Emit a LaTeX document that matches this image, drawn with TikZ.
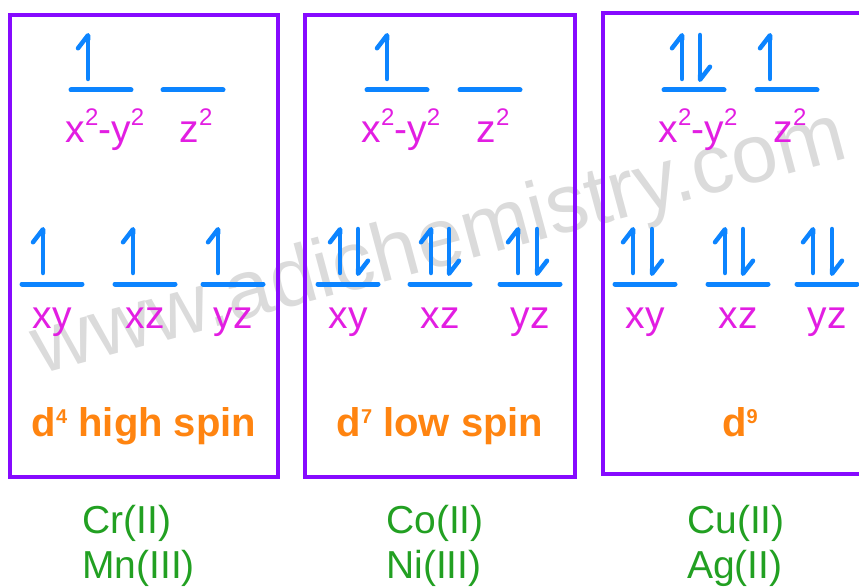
\documentclass[tikz,border=0pt]{standalone}
\usepackage{fontspec}
\setmainfont{Liberation Sans}
\usetikzlibrary{arrows.meta}

\definecolor{boxpurple}{RGB}{134,10,255}
\definecolor{eblue}{RGB}{12,132,255}
\definecolor{omag}{RGB}{226,30,226}
\definecolor{cfgorange}{RGB}{255,132,16}
\definecolor{iongreen}{RGB}{34,160,34}

\newcommand{\osup}[1]{\raisebox{17pt}{\fontsize{24}{24}\selectfont #1}}
\newcommand{\csup}[1]{\raisebox{13pt}{\fontsize{20}{20}\selectfont\bfseries #1}}

\begin{document}
\begin{tikzpicture}[x=1pt, y=-1pt,
    panel/.style={draw=boxpurple, line width=4pt},
    lvl/.style={draw=eblue, line width=5pt, line cap=round},
    spin/.style={draw=eblue, line width=4.5pt, line cap=round,
                 -{Straight Barb[left, round, length=13pt, width=20pt]}},
    orb/.style={text=omag, font=\fontsize{39}{40}\selectfont, inner sep=0pt, anchor=base},
    cfg/.style={text=cfgorange, font=\bfseries\fontsize{40}{42}\selectfont, inner sep=0pt, anchor=base},
    ion/.style={text=iongreen, font=\fontsize{39}{45}\selectfont, align=left, inner sep=0pt, anchor=base west},
    wmark/.style={text=black!14, font=\fontsize{83}{83}\selectfont, rotate=15}
]
\useasboundingbox (0,0) rectangle (859,588);
\clip (0,0) rectangle (859,588);

% watermark
\node[wmark] (site) at (440,245) {www.adichemistry.com};

% panels
\draw[panel] (10,15) rectangle (278,477);
\draw[panel] (305,15) rectangle (575,477);
\draw[panel] (603,13) rectangle (885,474);

% levels: top pair and bottom triple
\foreach \cx in {101,193,397,490,694,787}
  \draw[lvl] (\cx-30,90) -- (\cx+30,90);
\foreach \cx in {52,145,233,348,440,530,645,738,827}
  \draw[lvl] (\cx-30,284) -- (\cx+30,284);

% orbital labels
\node[orb] (a1) at (105,143) {x\osup{2}-y\osup{2}};
\node[orb] (a2) at (196,143) {z\osup{2}};
\node[orb] (a3) at (52,328) {xy};
\node[orb] (a4) at (145,328) {xz};
\node[orb] (a5) at (233,328) {yz};
\node[orb] (b1) at (401,143) {x\osup{2}-y\osup{2}};
\node[orb] (b2) at (493,143) {z\osup{2}};
\node[orb] (b3) at (348,328) {xy};
\node[orb] (b4) at (440,328) {xz};
\node[orb] (b5) at (530,328) {yz};
\node[orb] (c1) at (698,143) {x\osup{2}-y\osup{2}};
\node[orb] (c2) at (790,143) {z\osup{2}};
\node[orb] (c3) at (645,328) {xy};
\node[orb] (c4) at (738,328) {xz};
\node[orb] (c5) at (827,328) {yz};

% spin up electrons
\foreach \ex/\ey in {88/90, 43/284, 133/284, 218/284,
                     387/90, 340/284, 431/284, 518/284,
                     682/90, 770/90, 633/284, 725/284, 813/284}
  \draw[spin] (\ex,\ey-11) -- (\ex,\ey-57);
% spin down electrons
\foreach \ex/\ey in {358/284, 449/284, 537/284,
                     700/90, 652/284, 743/284, 832/284}
  \draw[spin] (\ex,\ey-55) -- (\ex,\ey-8);

% configurations
\node[cfg] (hs) at (144,436) {d\csup{4} high spin};
\node[cfg] (ls) at (440,436) {d\csup{7} low spin};
\node[cfg] (dn) at (740,436) {d\csup{9}};

% ions
\node[ion] (crmn) at (82,578) {Cr(II)\\Mn(III)};
\node[ion] (coni) at (386,578) {Co(II)\\Ni(III)};
\node[ion] (cuag) at (687,578) {Cu(II)\\Ag(II)};
\end{tikzpicture}
\end{document}
